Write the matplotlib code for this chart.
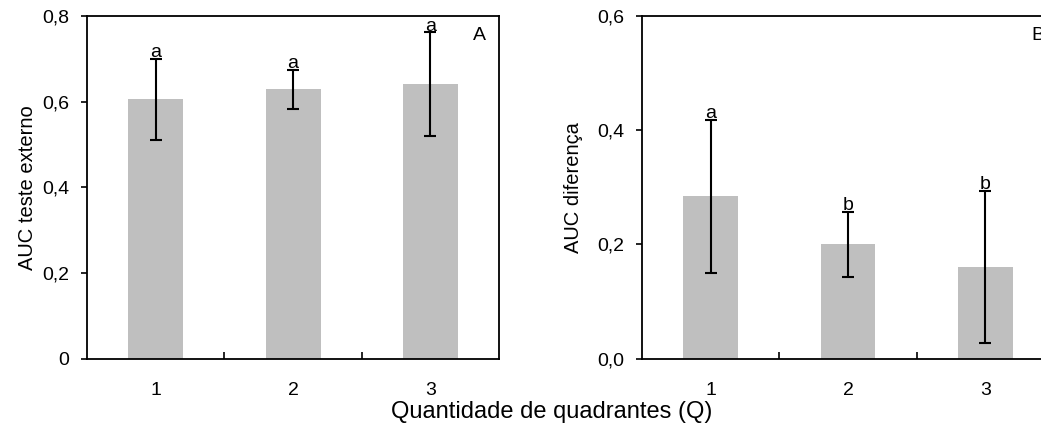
import numpy as np
import matplotlib.pyplot as plt
from matplotlib.ticker import FixedLocator

plt.rcParams["font.family"] = ["Liberation Sans", "DejaVu Sans"]
plt.rcParams["font.size"] = 14

quadrantes = [1, 2, 3]

# AUC teste externo (media e desvio)
auc_externo = [0.605, 0.629, 0.641]
auc_externo_sd = [0.095, 0.046, 0.121]
letras_externo = ["a", "a", "a"]

# AUC diferenca (media e desvio)
auc_dif = [0.284, 0.200, 0.160]
auc_dif_sd = [0.134, 0.057, 0.133]
letras_dif = ["a", "b", "b"]

fig = plt.figure(figsize=(10.41, 4.28), dpi=100)

ax_a = fig.add_axes([0.0836, 0.162, 0.3958, 0.8007])
ax_b = fig.add_axes([0.6167, 0.162, 0.3958, 0.8007])


def painel(ax, medias, sds, letras, ymax, yticks, ylabels, ylabel,
           label_x, tag, tag_x):
    x = np.array(quadrantes)
    ax.bar(x, medias, width=0.4, color="#bfbfbf", zorder=1)
    ax.errorbar(x, medias, yerr=sds, fmt="none", ecolor="black",
                elinewidth=1.5, capsize=4.5, capthick=1.5, zorder=2)
    for xi, m, s, l in zip(x, medias, sds, letras):
        ax.text(xi, m + s + 0.004, l, ha="center", va="baseline", fontsize=14)

    ax.set_xlim(0.5, 3.5)
    ax.set_ylim(0, ymax)
    ax.set_xticks(x)
    ax.set_xticklabels([str(q) for q in quadrantes])
    ax.tick_params(axis="x", which="major", length=0, pad=17)
    ax.xaxis.set_minor_locator(FixedLocator([1.5, 2.5]))
    ax.tick_params(axis="x", which="minor", direction="in", length=5, width=1.2)

    ax.set_yticks(yticks)
    ax.set_yticklabels(ylabels)
    ax.tick_params(axis="y", direction="out", length=4, width=1.2, pad=9)
    ax.set_ylabel(ylabel, fontsize=14.5)
    ax.yaxis.set_label_coords(label_x, 0.5)

    for sp in ax.spines.values():
        sp.set_linewidth(1.3)

    ax.text(tag_x, 0.942, tag, transform=ax.transAxes, ha="center", va="center")


painel(ax_a, auc_externo, auc_externo_sd, letras_externo, 0.8,
       [0, 0.2, 0.4, 0.6, 0.8], ["0", "0,2", "0,4", "0,6", "0,8"],
       "AUC teste externo", -0.121, "A", 0.953)
painel(ax_b, auc_dif, auc_dif_sd, letras_dif, 0.6,
       [0, 0.2, 0.4, 0.6], ["0,0", "0,2", "0,4", "0,6"],
       "AUC diferença", -0.1435, "B", 0.961)

fig.text(0.530, 0.038, "Quantidade de quadrantes (Q)", ha="center", va="center",
         fontsize=17)

fig.savefig("out.png", dpi=100)
